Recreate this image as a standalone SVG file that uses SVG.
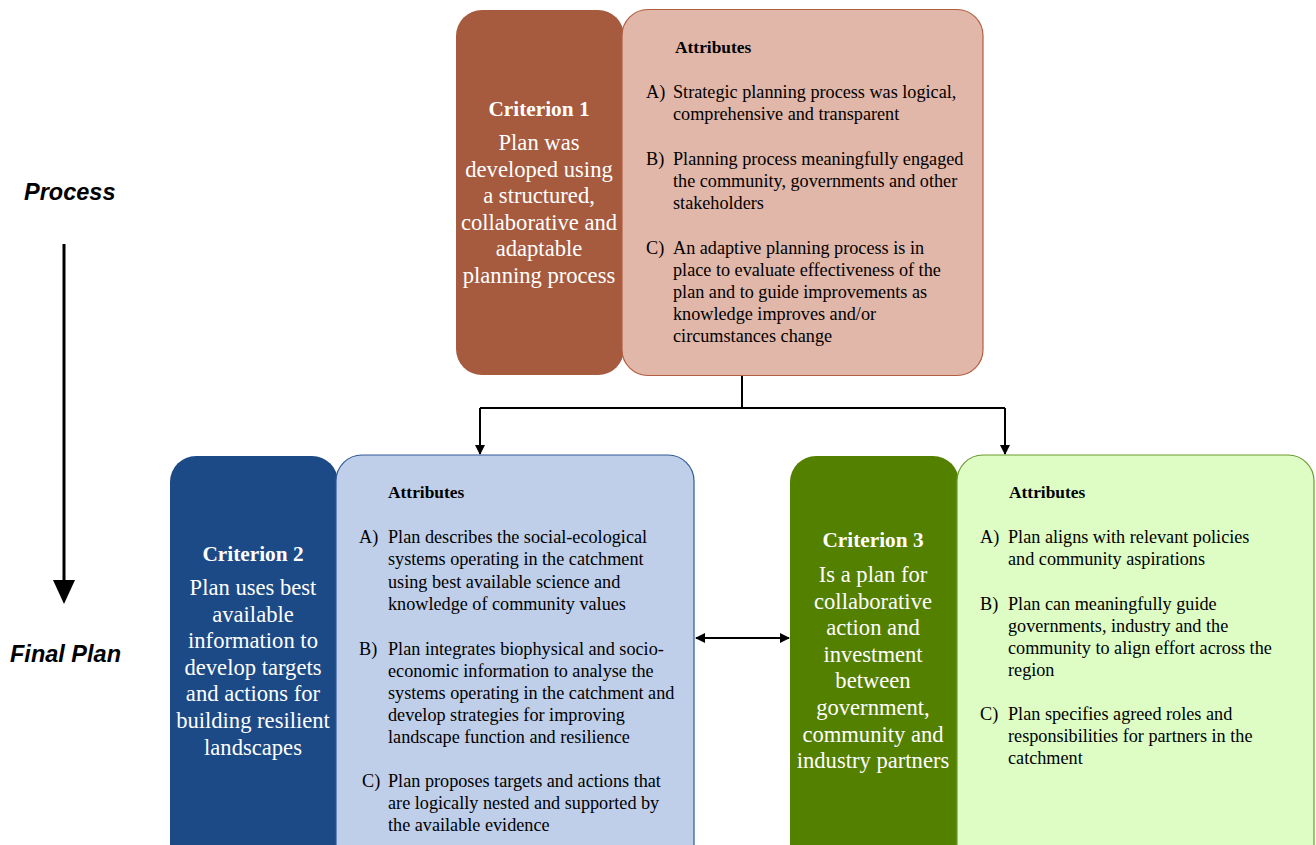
<svg xmlns="http://www.w3.org/2000/svg" width="1316" height="845" viewBox="0 0 1316 845">
<style>
.crit{font-family:"Liberation Serif","Times New Roman",serif;fill:#fff;text-anchor:middle;font-size:22.6px}
.crit .h{font-weight:bold;font-size:21.3px}
.att{font-family:"Liberation Serif","Times New Roman",serif;fill:#000;font-size:18.2px}
.att .h{font-weight:bold;font-size:17.4px}
.side{font-family:"Liberation Sans",Arial,sans-serif;font-weight:bold;font-style:italic;font-size:23.5px;fill:#000}
.con{stroke:#000;stroke-width:2;fill:none}
</style>
<defs>
<marker id="ah" markerWidth="10" markerHeight="10" refX="9" refY="5" orient="auto" markerUnits="userSpaceOnUse"><path d="M0,0 L10,5 L0,10 z" fill="#000"/></marker>
<marker id="ahs" markerWidth="10" markerHeight="10" refX="1" refY="5" orient="auto" markerUnits="userSpaceOnUse"><path d="M10,0 L0,5 L10,10 z" fill="#000"/></marker>
</defs>
<rect width="1316" height="845" fill="#fff"/>

<g id="side-labels">
<text class="side" x="24" y="200">Process</text>
<text class="side" x="10" y="662">Final Plan</text>
<line x1="64" y1="244" x2="64" y2="582" stroke="#000" stroke-width="3"/>
<path d="M53,580 L75,580 L64,604 z" fill="#000"/>
</g>

<g id="connectors">
<path class="con" d="M742,375 V408"/>
<path class="con" d="M480,408 H1005"/>
<path class="con" d="M480,408 V454" marker-end="url(#ah)"/>
<path class="con" d="M1005,408 V454" marker-end="url(#ah)"/>
<path class="con" d="M696,638 H789" marker-start="url(#ahs)" marker-end="url(#ah)"/>
</g>

<g id="criterion1">
<rect x="456" y="10" width="168" height="365" rx="26" fill="#A65A3E"/>
<rect x="622" y="9.5" width="361" height="366" rx="26" fill="#E0B7A8" stroke="#B35E40" stroke-width="1.2"/>
<text class="crit" x="539"><tspan class="h" x="539" y="116">Criterion 1</tspan><tspan x="539" y="150">Plan was</tspan><tspan x="539" y="177">developed using</tspan><tspan x="539" y="203">a structured,</tspan><tspan x="539" y="230">collaborative and</tspan><tspan x="539" y="256">adaptable</tspan><tspan x="539" y="283">planning process</tspan></text>
<text class="att"><tspan class="h" x="675" y="53">Attributes</tspan>
<tspan x="646" y="98">A)</tspan><tspan x="673" y="98">Strategic planning process was logical,</tspan><tspan x="673" y="120">comprehensive and transparent</tspan>
<tspan x="646" y="165">B)</tspan><tspan x="673" y="165">Planning process meaningfully engaged</tspan><tspan x="673" y="187">the community, governments and other</tspan><tspan x="673" y="209">stakeholders</tspan>
<tspan x="646" y="254">C)</tspan><tspan x="673" y="254">An adaptive planning process is in</tspan><tspan x="673" y="276">place to evaluate effectiveness of the</tspan><tspan x="673" y="298">plan and to guide improvements as</tspan><tspan x="673" y="320">knowledge improves and/or</tspan><tspan x="673" y="342">circumstances change</tspan></text>
</g>

<g id="criterion2">
<rect x="170" y="456" width="168" height="420" rx="26" fill="#1B4A87"/>
<rect x="336" y="455" width="358" height="420" rx="26" fill="#BFCFE9" stroke="#2F5A96" stroke-width="1.2"/>
<text class="crit" x="253"><tspan class="h" x="253" y="561">Criterion 2</tspan><tspan x="253" y="595">Plan uses best</tspan><tspan x="253" y="622">available</tspan><tspan x="253" y="648">information to</tspan><tspan x="253" y="675">develop targets</tspan><tspan x="253" y="701">and actions for</tspan><tspan x="253" y="728">building resilient</tspan><tspan x="253" y="755">landscapes</tspan></text>
<text class="att"><tspan class="h" x="388" y="498">Attributes</tspan>
<tspan x="359" y="543">A)</tspan><tspan x="388" y="543">Plan describes the social-ecological</tspan><tspan x="388" y="565">systems operating in the catchment</tspan><tspan x="388" y="588">using best available science and</tspan><tspan x="388" y="610">knowledge of community values</tspan>
<tspan x="359" y="655">B)</tspan><tspan x="388" y="655">Plan integrates biophysical and socio-</tspan><tspan x="388" y="677">economic information to analyse the</tspan><tspan x="388" y="699">systems operating in the catchment and</tspan><tspan x="388" y="721">develop strategies for improving</tspan><tspan x="388" y="743">landscape function and resilience</tspan>
<tspan x="362" y="787">C)</tspan><tspan x="388" y="787">Plan proposes targets and actions that</tspan><tspan x="388" y="809">are logically nested and supported by</tspan><tspan x="388" y="831">the available evidence</tspan></text>
</g>

<g id="criterion3">
<rect x="790" y="456" width="169" height="420" rx="26" fill="#548000"/>
<rect x="957" y="455" width="357" height="420" rx="26" fill="#DDFDC5" stroke="#6B9A2E" stroke-width="1.2"/>
<text class="crit" x="873"><tspan class="h" x="873" y="547">Criterion 3</tspan><tspan x="873" y="582">Is a plan for</tspan><tspan x="873" y="609">collaborative</tspan><tspan x="873" y="635">action and</tspan><tspan x="873" y="662">investment</tspan><tspan x="873" y="688">between</tspan><tspan x="873" y="715">government,</tspan><tspan x="873" y="742">community and</tspan><tspan x="873" y="768">industry partners</tspan></text>
<text class="att"><tspan class="h" x="1009" y="498">Attributes</tspan>
<tspan x="980" y="543">A)</tspan><tspan x="1008" y="543">Plan aligns with relevant policies</tspan><tspan x="1008" y="565">and community aspirations</tspan>
<tspan x="980" y="610">B)</tspan><tspan x="1008" y="610">Plan can meaningfully guide</tspan><tspan x="1008" y="632">governments, industry and the</tspan><tspan x="1008" y="654">community to align effort across the</tspan><tspan x="1008" y="676">region</tspan>
<tspan x="980" y="720">C)</tspan><tspan x="1008" y="720">Plan specifies agreed roles and</tspan><tspan x="1008" y="742">responsibilities for partners in the</tspan><tspan x="1008" y="764">catchment</tspan></text>
</g>
</svg>
